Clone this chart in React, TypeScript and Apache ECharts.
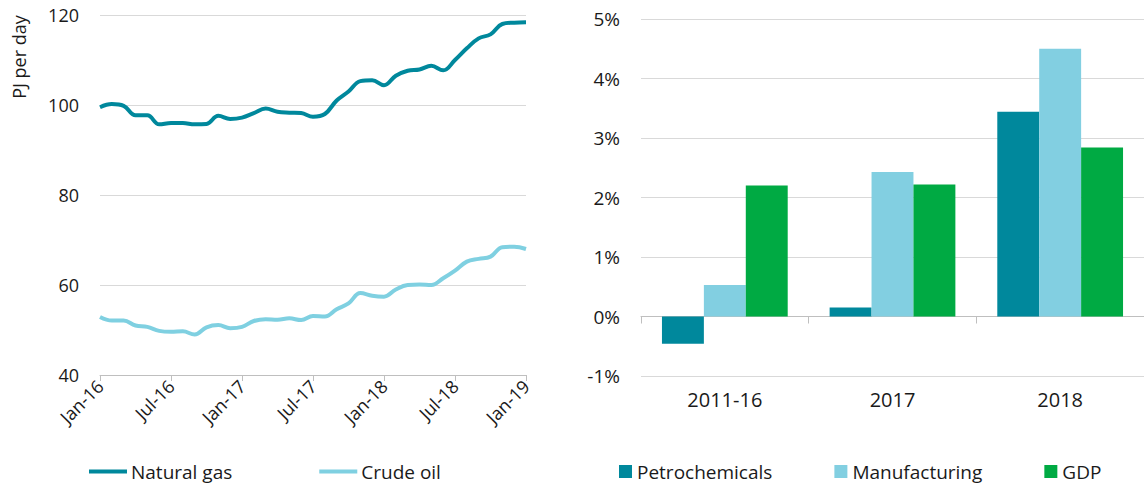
import React, { useEffect, useRef } from "react";
import * as echarts from "echarts";

const months = [
  "Jan-16","Feb-16","Mar-16","Apr-16","May-16","Jun-16","Jul-16","Aug-16","Sep-16","Oct-16","Nov-16","Dec-16",
  "Jan-17","Feb-17","Mar-17","Apr-17","May-17","Jun-17","Jul-17","Aug-17","Sep-17","Oct-17","Nov-17","Dec-17",
  "Jan-18","Feb-18","Mar-18","Apr-18","May-18","Jun-18","Jul-18","Aug-18","Sep-18","Oct-18","Nov-18","Dec-18",
  "Jan-19",
];

const naturalGas = [
  99.5, 100.2, 99.8, 97.7, 97.7, 95.7, 96.0, 96.0, 95.7, 95.8, 97.6, 96.9,
  97.2, 98.2, 99.2, 98.5, 98.3, 98.2, 97.4, 98.0, 101.0, 103.0, 105.3, 105.5,
  104.4, 106.5, 107.6, 107.9, 108.7, 107.7, 110.0, 112.6, 114.8, 115.7, 118.0, 118.3,
  118.4,
];

const crudeOil = [
  52.9, 52.1, 52.1, 51.0, 50.7, 49.8, 49.6, 49.7, 49.0, 50.6, 51.1, 50.4,
  50.7, 52.0, 52.4, 52.3, 52.6, 52.2, 53.1, 53.0, 54.6, 55.9, 58.2, 57.6,
  57.4, 59.0, 60.0, 60.1, 60.0, 61.5, 63.2, 65.2, 65.8, 66.3, 68.4, 68.5,
  68.0,
];

const periods = ["2011-16", "2017", "2018"];
const petrochemicals = [-0.46, 0.15, 3.44];
const manufacturing = [0.53, 2.43, 4.5];
const gdp = [2.2, 2.22, 2.84];

const FONT = "Open Sans";
const TEXT = "#1a1a1a";
const AXIS = "#BFBFBF";
const GRID = "#D9D9D9";

export default function App() {
  const ref = useRef<HTMLDivElement>(null);
  useEffect(() => {
    document.body.style.margin = "0";
    const chart = echarts.init(ref.current!, null, { renderer: "svg" });
    chart.setOption({
      animation: false,
      textStyle: { fontFamily: FONT, color: TEXT },
      grid: [
        { left: 100, right: 618, top: 15, bottom: 114 },
        { left: 641, right: 0, top: 19, bottom: 113 },
      ],
      legend: [
        {
          data: ["Natural gas", "Crude oil"],
          left: 89,
          top: 462,
          padding: 0,
          icon: "rect",
          itemWidth: 38,
          itemHeight: 4,
          itemGap: 87,
          textStyle: { fontFamily: FONT, fontSize: 19, color: TEXT, padding: [0, 0, 0, -1] },
        },
        {
          data: ["Petrochemicals", "Manufacturing", "GDP"],
          left: 619,
          top: 462,
          padding: 0,
          icon: "rect",
          itemWidth: 13,
          itemHeight: 13,
          itemGap: 62,
          textStyle: { fontFamily: FONT, fontSize: 19, color: TEXT },
        },
      ],
      graphic: [
        {
          type: "text",
          x: 19,
          y: 57,
          rotation: Math.PI / 2,
          style: {
            text: "PJ per day",
            fontFamily: FONT,
            fontSize: 18,
            fill: TEXT,
            align: "center",
            verticalAlign: "middle",
          },
        },
      ],
      xAxis: [
        {
          gridIndex: 0,
          type: "category",
          data: months,
          boundaryGap: false,
          axisLine: { lineStyle: { color: AXIS, width: 1 } },
          axisTick: { interval: 5, length: 6, lineStyle: { color: AXIS } },
          axisLabel: { interval: 5, rotate: 45, fontSize: 18, margin: 8, color: TEXT, fontFamily: FONT },
          splitLine: { show: false },
        },
        {
          gridIndex: 1,
          type: "category",
          data: periods,
          axisLine: { onZero: true, lineStyle: { color: AXIS, width: 1 } },
          axisTick: { show: true, length: 7, lineStyle: { color: AXIS } },
          axisLabel: { show: false },
          splitLine: { show: false },
        },
        {
          gridIndex: 1,
          type: "category",
          data: periods,
          position: "bottom",
          axisLine: { show: false, onZero: false },
          axisTick: { show: false },
          axisLabel: { fontSize: 20, margin: 13, color: TEXT, fontFamily: FONT },
          splitLine: { show: false },
        },
      ],
      yAxis: [
        {
          gridIndex: 0,
          type: "value",
          min: 40,
          max: 120,
          interval: 20,
          axisLine: { show: false },
          axisTick: { show: false },
          axisLabel: { fontSize: 18, margin: 21, color: TEXT, fontFamily: FONT },
          splitLine: { lineStyle: { color: GRID, width: 1 } },
        },
        {
          gridIndex: 1,
          type: "value",
          min: -1,
          max: 5,
          interval: 1,
          axisLine: { show: false },
          axisTick: { show: false },
          axisLabel: { fontSize: 19, margin: 21, color: TEXT, fontFamily: FONT, formatter: "{value}%" },
          splitLine: { lineStyle: { color: GRID, width: 1 } },
        },
      ],
      series: [
        {
          name: "Natural gas",
          type: "line",
          xAxisIndex: 0,
          yAxisIndex: 0,
          data: naturalGas,
          smooth: 0.4,
          symbol: "none",
          color: "#00889C",
          lineStyle: { width: 4, color: "#00889C" },
        },
        {
          name: "Crude oil",
          type: "line",
          xAxisIndex: 0,
          yAxisIndex: 0,
          data: crudeOil,
          smooth: 0.4,
          symbol: "none",
          color: "#7FD0E1",
          lineStyle: { width: 4, color: "#7FD0E1" },
        },
        {
          name: "Petrochemicals",
          type: "bar",
          xAxisIndex: 1,
          yAxisIndex: 1,
          data: petrochemicals,
          color: "#00889C",
          barGap: "0%",
          barCategoryGap: "25%",
        },
        {
          name: "Manufacturing",
          type: "bar",
          xAxisIndex: 1,
          yAxisIndex: 1,
          data: manufacturing,
          color: "#82CFE1",
          barGap: "0%",
          barCategoryGap: "25%",
        },
        {
          name: "GDP",
          type: "bar",
          xAxisIndex: 1,
          yAxisIndex: 1,
          data: gdp,
          color: "#00AA43",
          barGap: "0%",
          barCategoryGap: "25%",
        },
      ],
    });
    return () => chart.dispose();
  }, []);
  return <div ref={ref} style={{ width: 1144, height: 489 }} />;
}
